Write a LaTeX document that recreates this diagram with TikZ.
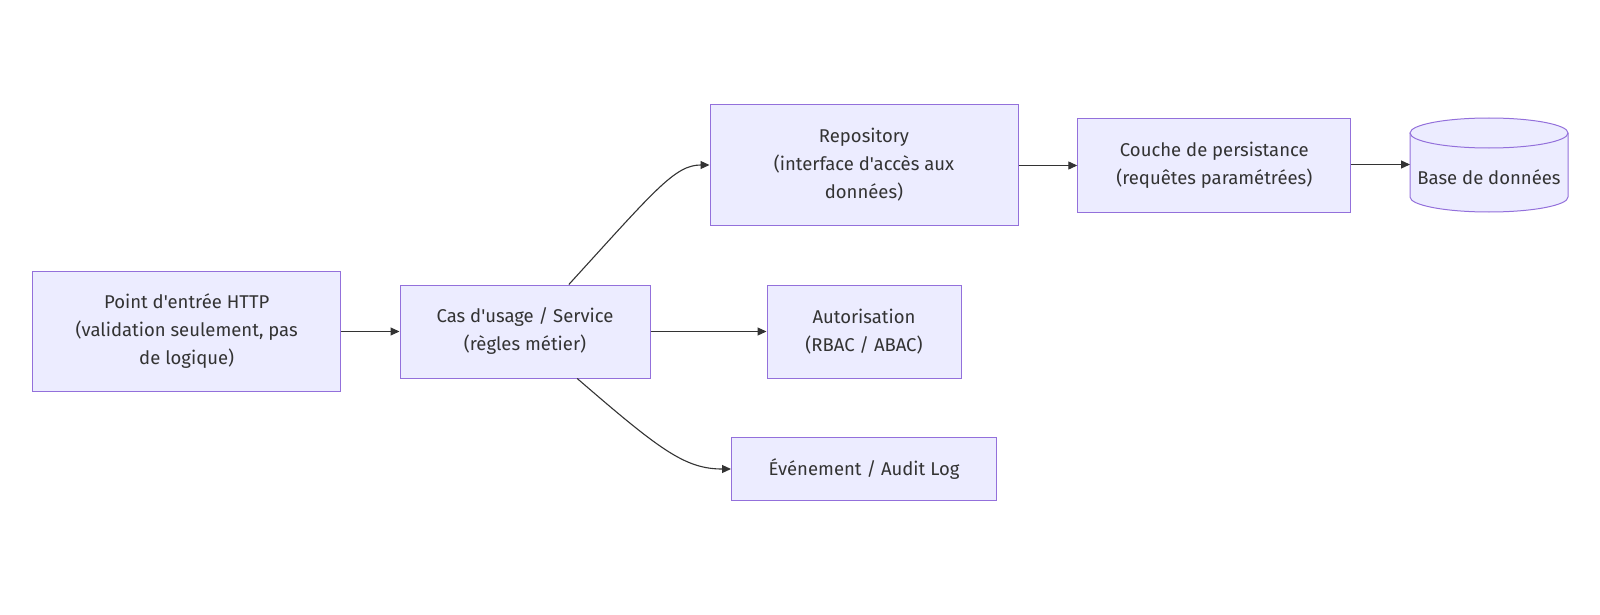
\documentclass[tikz,border=0pt]{standalone}
\usepackage{fontspec}
\setmainfont{Fira Sans}[Ligatures=TeXOff]
\usetikzlibrary{arrows.meta}

\definecolor{boxfill}{HTML}{ECECFF}
\definecolor{boxline}{HTML}{9370DB}
\definecolor{ink}{HTML}{333333}

\begin{document}
\begin{tikzpicture}[x=1pt,y=-1pt,
  box/.style={draw=boxline, fill=boxfill, line width=1pt, align=center,
    text=ink, font=\fontsize{18.5}{28}\selectfont, inner sep=0pt},
  link/.style={draw=ink, line width=1.1pt, -{Triangle[length=9pt,width=8pt]}}]
\useasboundingbox (0,0) rectangle (1600,615);

\node[box, minimum width=308, minimum height=120] (http) at (186.7,331.5)
  {Point d'entrée HTTP\\(validation seulement, pas\\de logique)};
\node[box, minimum width=250, minimum height=93] (service) at (525,331.5)
  {Cas d'usage / Service\\(règles métier)};
\node[box, minimum width=308, minimum height=120] (repo) at (864,165)
  {Repository\\(interface d'accès aux\\données)};
\node[box, minimum width=194, minimum height=93] (authz) at (864,331.5)
  {Autorisation\\(RBAC / ABAC)};
\node[box, minimum width=265, minimum height=63] (audit) at (864,469)
  {Événement / Audit Log};
\node[box, minimum width=273, minimum height=93] (persist) at (1214.3,165.5)
  {Couche de persistance\\(requêtes paramétrées)};

% database drawn as a cylinder
\def\rx{79}
\def\ry{15}
\fill[boxfill] (1410,133) -- (1410,197) arc[start angle=180,end angle=0,x radius=\rx,y radius=\ry]
  -- (1568,133) -- cycle;
\fill[boxfill] (1489,133) ellipse[x radius=\rx,y radius=\ry];
\draw[boxline, line width=1pt] (1410,133) -- (1410,197)
  arc[start angle=180,end angle=0,x radius=\rx,y radius=\ry] -- (1568,133);
\draw[boxline, line width=1pt] (1489,133) ellipse[x radius=\rx,y radius=\ry];
\node[text=ink, font=\fontsize{18.5}{28}\selectfont, inner sep=0pt,
  minimum width=158, minimum height=64] (db) at (1489,177) {Base de données};
\coordinate (dbin) at (1410,164.5);

\draw[link] (http) -- (service);
\draw[link] (service) -- (authz);
\draw[link] (service.47) .. controls (655,190) and (675,165) .. (repo.west);
\draw[link] (service.-42) .. controls (660,450) and (685,469) .. (audit.west);
\draw[link] (repo.east |- persist) -- (persist);
\draw[link] (persist.east |- dbin) -- (dbin);
\end{tikzpicture}
\end{document}
